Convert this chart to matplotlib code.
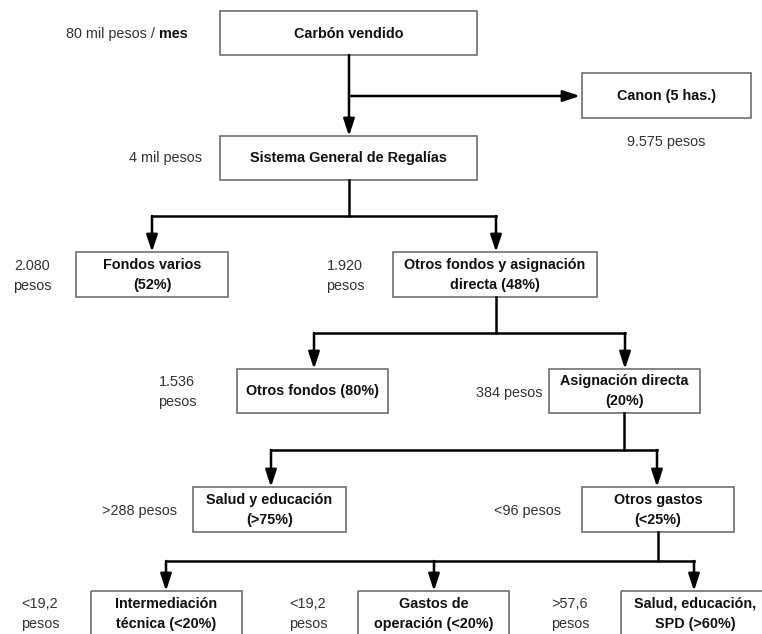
import matplotlib.pyplot as plt
from matplotlib.patches import Rectangle

plt.rcParams["font.family"] = ["Liberation Sans", "DejaVu Sans"]

# box texts
box_texts = [
    "Carbón vendido",
    "Canon (5 has.)",
    "Sistema General de Regalías",
    "Fondos varios\n(52%)",
    "Otros fondos y asignación\ndirecta (48%)",
    "Otros fondos (80%)",
    "Asignación directa\n(20%)",
    "Salud y educación\n(>75%)",
    "Otros gastos\n(<25%)",
    "Intermediación\ntécnica (<20%)",
    "Gastos de\noperación (<20%)",
    "Salud, educación,\nSPD (>60%)",
]
# amounts written next to the boxes
amount_texts = [
    "4 mil pesos",
    "9.575 pesos",
    "2.080\npesos",
    "1.920\npesos",
    "1.536\npesos",
    "384 pesos",
    ">288 pesos",
    "<96 pesos",
    "<19,2\npesos",
    "<19,2\npesos",
    ">57,6\npesos",
]

# layout (pixels): x0, x1, y0, y1
box_xy = [
    (220, 477, 11, 55),
    (582, 751, 73, 118),
    (220, 477, 136, 180),
    (76, 228, 252, 297),
    (393, 597, 252, 297),
    (237, 388, 369, 413),
    (549, 700, 369, 413),
    (193, 346, 487, 532),
    (582, 734, 487, 532),
    (91, 242, 591, 660),
    (358, 509, 591, 660),
    (621, 770, 591, 660),
]
text_y = [34, 96, 158, 275, 275, 391, 391, 510, 510, 614, 614, 614]
amount_xy = [
    (202, 158, "right"),
    (666, 142, "center"),
    (32, 276, "center"),
    (345, 276, "center"),
    (177, 392, "center"),
    (542, 393, "right"),
    (177, 511, "right"),
    (527, 511, "center"),
    (40, 614, "center"),
    (308, 614, "center"),
    (570, 614, "center"),
]

# connectors: polyline ending in an arrow tip
connectors = [
    [(349, 55), (349, 136)],
    [(349, 96), (580, 96)],
    [(349, 180), (349, 216), (152, 216), (152, 252)],
    [(349, 216), (496, 216), (496, 252)],
    [(496, 297), (496, 333), (314, 333), (314, 369)],
    [(496, 333), (625, 333), (625, 369)],
    [(624, 413), (624, 450), (271, 450), (271, 487)],
    [(624, 450), (657, 450), (657, 487)],
    [(658, 532), (658, 561), (166, 561), (166, 591)],
    [(434, 561), (434, 591)],
    [(658, 561), (694, 561), (694, 591)],
]

FS = 10.4
LS = 1.6
fig = plt.figure(figsize=(7.62, 6.34), dpi=100)
ax = fig.add_axes([0, 0, 1, 1])
ax.set_xlim(0, 762)
ax.set_ylim(634, 0)
ax.axis("off")

for (x0, x1, y0, y1), t, ty in zip(box_xy, box_texts, text_y):
    ax.add_patch(Rectangle((x0, y0), x1 - x0, y1 - y0, fill=False,
                           edgecolor="#6e6e6e", linewidth=1.2))
    ax.text((x0 + x1) / 2, ty, t, ha="center", va="center", fontsize=FS,
            fontweight="bold", color="#111111", linespacing=LS)

for t, (x, y, ha) in zip(amount_texts, amount_xy):
    ax.text(x, y, t, ha=ha, va="center", fontsize=FS, color="#333333",
            linespacing=LS)

for pts in connectors:
    xs = [p[0] for p in pts]
    ys = [p[1] for p in pts]
    ax.plot(xs[:-1], ys[:-1], color="black", lw=1.8, solid_capstyle="projecting")
    ax.annotate("", xy=pts[-1], xytext=pts[-2],
                arrowprops=dict(arrowstyle="-|>,head_length=0.85,head_width=0.28",
                                mutation_scale=12, color="black", lw=1.8,
                                shrinkA=0, shrinkB=0))

# "80 mil pesos / mes" with bold "mes"
fig.canvas.draw()
r = fig.canvas.get_renderer()
t_mes = ax.text(188, 34, "mes", ha="right", va="center", fontsize=FS,
                fontweight="bold", color="#111111")
w = t_mes.get_window_extent(renderer=r).width
ax.text(188 - w, 34, "80 mil pesos / ", ha="right", va="center",
        fontsize=FS, color="#333333")

plt.savefig("out.png", dpi=100)
